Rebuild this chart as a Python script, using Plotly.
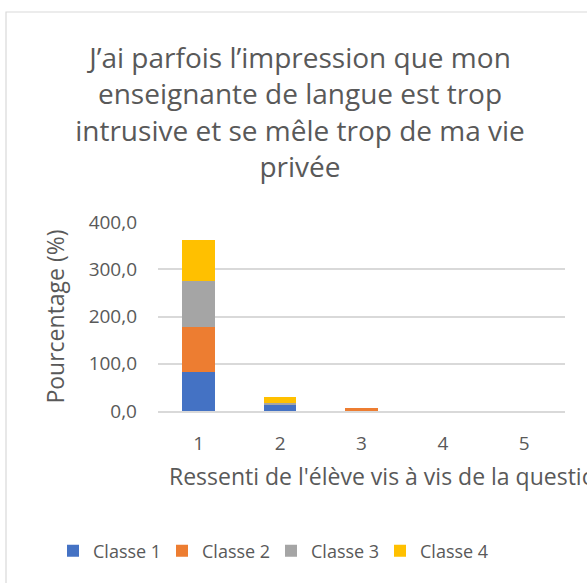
import plotly.graph_objects as go

categories = ["1", "2", "3", "4", "5"]
classe1 = [83.3, 14.3, 0, 0, 0]
classe2 = [94.4, 0, 5.6, 0, 0]
classe3 = [96.4, 3.6, 0, 0, 0]
classe4 = [87.5, 12.5, 0, 0, 0]
series_names = ["Classe 1", "Classe 2", "Classe 3", "Classe 4"]
colors = ["#4472C4", "#ED7D31", "#A5A5A5", "#FFC000"]
y_ticks = [0, 100, 200, 300, 400]
y_ticktext = ["0,0", "100,0", "200,0", "300,0", "400,0"]

title_text = "J’ai parfois l’impression que mon<br>enseignante de langue est trop<br>intrusive et se mêle trop de ma vie<br>privée"
x_title = "Ressenti de l'élève vis à vis de la question"
y_title = "Pourcentage (%)"

FONT = "Open Sans"
TXT = "#595959"
W, H = 587, 583
L, R, T, B = 158, 22, 222, 172
pw = W - L - R
ph = H - T - B

def px_x(x):
    return (x - L) / pw

def px_y(y):
    return (H - B - y) / ph

fig = go.Figure()
for name, vals, c in zip(series_names, [classe1, classe2, classe3, classe4], colors):
    fig.add_trace(go.Bar(x=categories, y=vals, name=name, marker=dict(color=c, line=dict(width=0))))

fig.update_layout(
    width=W, height=H,
    margin=dict(l=L, r=R, t=T, b=B),
    barmode="stack",
    bargap=0.6,
    plot_bgcolor="white",
    paper_bgcolor="white",
    font=dict(family=FONT, color=TXT, size=19),
    title=dict(text=title_text, x=300 / W, xanchor="center", xref="container",
               y=1 - 68 / H, yanchor="top", yref="container",
               font=dict(family=FONT, size=28, color=TXT)),
    showlegend=True,
    legend=dict(orientation="h", traceorder="normal", x=px_x(53), xanchor="left", y=px_y(551), yanchor="middle",
                entrywidth=64, font=dict(size=18, color=TXT), itemclick=False,
                bgcolor="rgba(0,0,0,0)"),
    xaxis=dict(type="category", showgrid=False, showline=True, linecolor="#D9D9D9", linewidth=1.5,
               ticks="", tickfont=dict(size=19, color=TXT), ticklabelstandoff=14),
    yaxis=dict(range=[0, 400], tickvals=y_ticks, ticktext=y_ticktext, showgrid=True,
               gridcolor="#D9D9D9", gridwidth=1.5, zeroline=False, showline=False,
               tickfont=dict(size=19, color=TXT), ticklabelstandoff=20,
               title=dict(text=y_title, font=dict(size=23, color=TXT), standoff=17)),
    shapes=[dict(type="rect", xref="paper", yref="paper",
                 x0=px_x(6), x1=px_x(620), y0=px_y(620), y1=px_y(12),
                 line=dict(color="#D9D9D9", width=1.2), fillcolor="rgba(0,0,0,0)", layer="below")],
    annotations=[dict(text=x_title, xref="paper", yref="paper", x=px_x(167), y=px_y(476),
                      xanchor="left", yanchor="middle", showarrow=False,
                      font=dict(size=23, color=TXT, family=FONT))],
)

fig.write_html("out.html", config={"displayModeBar": False},
               post_script="document.body.style.margin='0';")
